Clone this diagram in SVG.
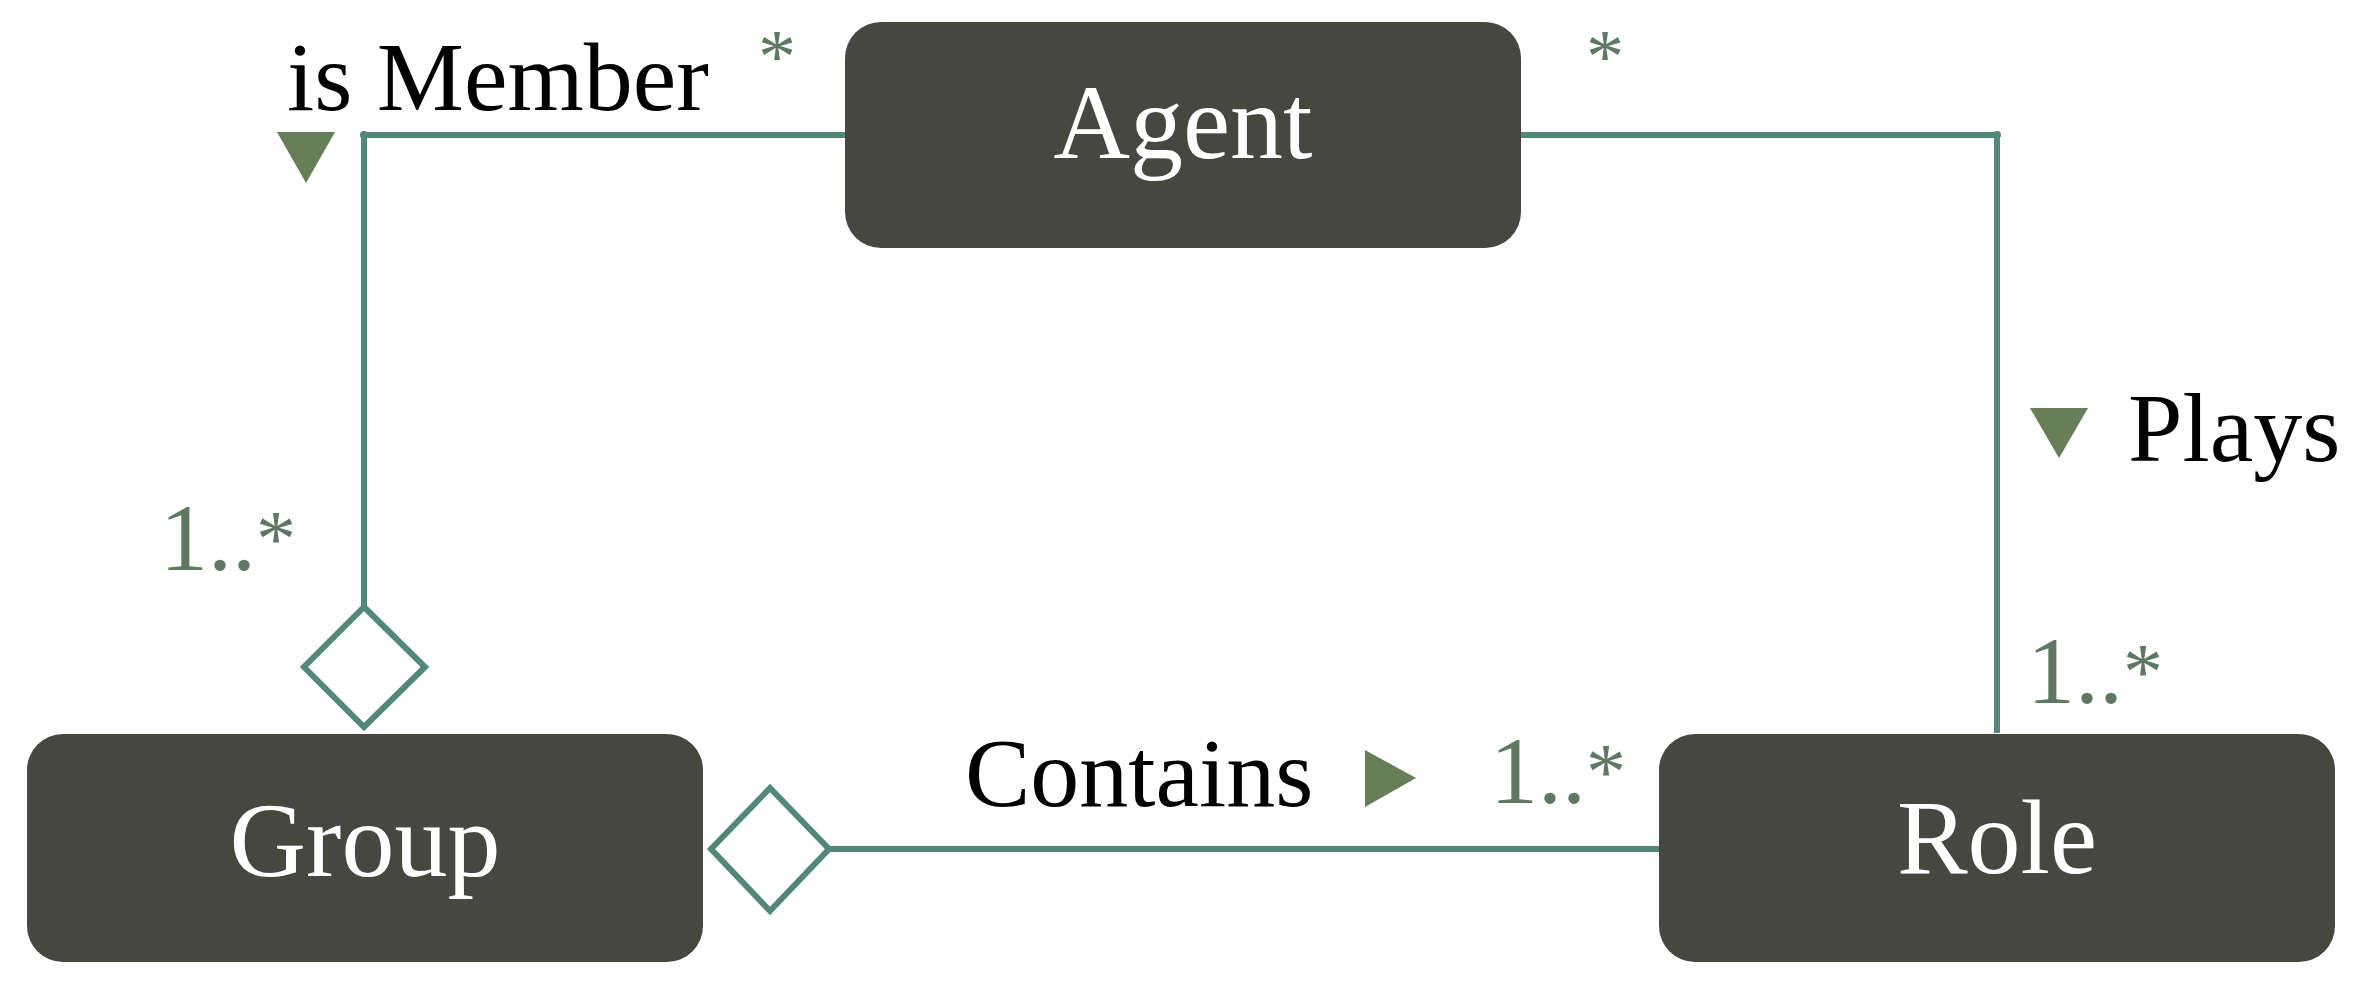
<svg xmlns="http://www.w3.org/2000/svg" width="2357" height="991" viewBox="0 0 2357 991">
<style>
.box{fill:#46483f}
.nlabel{font-family:"Liberation Serif",serif;font-size:106px;fill:#ffffff;text-anchor:middle}
.elabel{font-family:"Liberation Serif",serif;font-size:98px;fill:#000000}
.mult{font-family:"Liberation Serif",serif;font-size:96px;fill:#5e7862}
.sm{font-size:80px}
.star{font-family:"Liberation Serif",serif;font-size:76px;fill:#5e7862;text-anchor:middle}
.conn{fill:none;stroke:#52877a;stroke-width:6;stroke-linejoin:round}
.dia{fill:#ffffff;stroke:#52877a;stroke-width:6}
.tri{fill:#667f58}
.dot{fill:#52877a}
</style>
<rect width="2357" height="991" fill="#ffffff"/>
<g id="connectors">
  <g id="isMember">
    <polyline class="conn" points="845,135 364,135 364,607"/>
    <circle class="dot" cx="364" cy="135" r="4"/>
    <polygon class="dia" points="364,607 425,667 364,727 304,667"/>
  </g>
  <g id="plays">
    <polyline class="conn" points="1521,135 1997,135 1997,733"/>
    <circle class="dot" cx="1997" cy="135" r="4"/>
  </g>
  <g id="contains">
    <line class="conn" x1="829" y1="849" x2="1659" y2="849"/>
    <polygon class="dia" points="711,849 770,788 829,849 770,911"/>
  </g>
</g>
<g id="labels">
  <text class="elabel" x="287" y="110">is Member</text>
  <polygon class="tri" points="277,132 335,132 306,183"/>
  <text class="star" x="777" y="82">*</text>
  <text class="star" x="1605" y="82">*</text>
  <polygon class="tri" points="2030,408 2088,408 2059,458"/>
  <text class="elabel" x="2128" y="461" font-size="93">Plays</text>
  <text class="mult" x="2027" y="703">1..<tspan class="sm" dy="-4">*</tspan></text>
  <text class="mult" x="160" y="570">1..<tspan class="sm" dy="-4">*</tspan></text>
  <text class="elabel" x="965" y="806">Contains</text>
  <polygon class="tri" points="1365,750 1416,778 1365,807"/>
  <text class="mult" x="1490" y="803">1..<tspan class="sm" dy="-4">*</tspan></text>
</g>
<g id="node-agent">
  <rect class="box" x="845" y="22" width="676" height="226" rx="36"/>
  <text class="nlabel" x="1183" y="158">Agent</text>
</g>
<g id="node-group">
  <rect class="box" x="27" y="734" width="676" height="228" rx="36"/>
  <text class="nlabel" x="365" y="876">Group</text>
</g>
<g id="node-role">
  <rect class="box" x="1659" y="734" width="676" height="228" rx="36"/>
  <text class="nlabel" x="1997" y="873">Role</text>
</g>
</svg>
